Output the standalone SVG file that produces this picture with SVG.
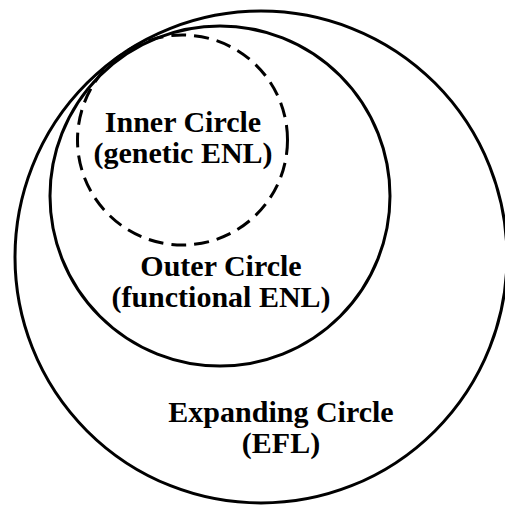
<svg xmlns="http://www.w3.org/2000/svg" width="505" height="506" viewBox="0 0 505 506">
<style>
.c{fill:none;stroke:#000;stroke-width:3}
.d{stroke-dasharray:15 8}
.t{font-family:"Liberation Serif","Times New Roman",serif;font-weight:bold;font-size:30px;fill:#000;text-anchor:middle}
</style>
<rect width="505" height="506" fill="#fff"/>
<g id="expanding">
<circle class="c" cx="261" cy="257" r="246"/>
<text class="t" x="281" y="422">Expanding Circle</text>
<text class="t" x="281" y="453">(EFL)</text>
</g>
<g id="outer">
<circle class="c" cx="220" cy="196" r="170"/>
<text class="t" x="221" y="276">Outer Circle</text>
<text class="t" x="221" y="307">(functional ENL)</text>
</g>
<g id="inner">
<circle class="c d" cx="182.5" cy="140" r="105"/>
<text class="t" x="183" y="132">Inner Circle</text>
<text class="t" x="183" y="163">(genetic ENL)</text>
</g>
<g id="connectors"></g>
</svg>
